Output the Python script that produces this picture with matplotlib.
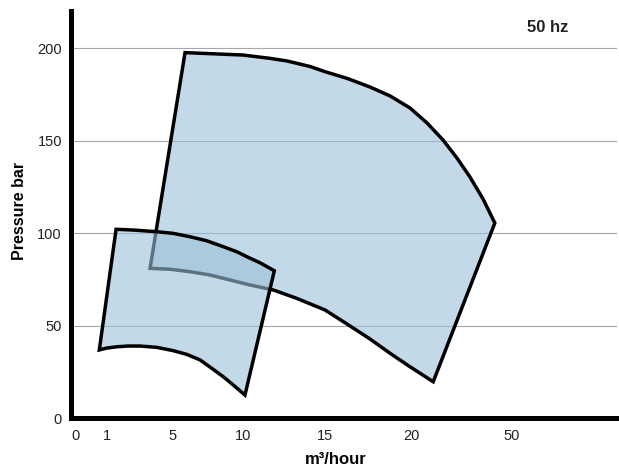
import numpy as np
import matplotlib
matplotlib.use("Agg")
import matplotlib.pyplot as plt
from matplotlib.patches import Polygon

plt.rcParams['font.family'] = ['Liberation Sans', 'DejaVu Sans']

# ---- data ----
x_tick_values = [0, 1, 5, 10, 15, 20, 50]
x_tick_labels = ['0', '1', '5', '10', '15', '20', '50']
y_tick_values = [0, 50, 100, 150, 200]

# large pump envelope (flow m3/h, pressure bar)
large_flow = [5.86, 7.14, 10.0, 11.65, 12.68, 14.09, 15.0, 16.28, 17.62, 18.78,
              19.94, 24.75, 29.5, 33.66, 37.5, 41.4, 44.9,
              26.6, 19.94, 18.78, 17.62, 16.28, 15.0, 13.27, 11.85, 10.43,
              9.07, 7.64, 6.21, 4.82, 3.61]
large_pressure = [197.5, 197.1, 196.2, 194.4, 193.0, 190.0, 187.2, 183.6, 178.9, 174.1,
                  167.6, 159.5, 150.3, 140.5, 130.3, 118.4, 105.4,
                  19.6, 27.7, 35.0, 42.7, 50.8, 58.4, 64.7, 69.2, 71.9,
                  74.6, 77.3, 79.1, 80.4, 80.9]

# small pump envelope
small_flow = [1.55, 2.59, 4.01, 5.02, 6.21, 7.41, 8.59, 9.55, 10.23, 11.04, 11.91,
              10.12, 9.31, 8.59, 7.76, 6.93, 5.98, 5.02, 4.01, 3.0, 2.29, 1.59, 0.99, 0.76]
small_pressure = [102.0, 101.6, 100.7, 99.8, 98.0, 95.8, 92.6, 89.9, 87.2, 83.9, 79.6,
                  12.4, 17.8, 22.3, 26.9, 31.4, 34.4, 36.4, 38.2, 38.9, 38.9, 38.5, 37.8, 36.8]

# ---- non-linear flow axis (piecewise linear scale) ----
scale_vals = np.array([-1, 0, 1, 5, 10, 15, 20, 50, 100], dtype=float)
scale_pos = np.array([43, 75, 107, 173, 243, 325, 411, 512, 680], dtype=float)

def fwd(x):
    return np.interp(x, scale_vals, scale_pos)

def inv(p):
    return np.interp(p, scale_pos, scale_vals)

W, H = 619, 468
fig = plt.figure(figsize=(W / 100, H / 100), dpi=100)
ax = fig.add_axes([71 / W, 1 - 418 / H, 546 / W, 407 / H])
ax.set_xscale('function', functions=(fwd, inv))
ax.set_xlim(inv(71), inv(617))
ax.set_ylim(0, 220)

fill_rgba = (157 / 255, 193 / 255, 215 / 255, 0.6)
for fx, py in [(large_flow, large_pressure), (small_flow, small_pressure)]:
    poly = Polygon(np.column_stack([fx, py]), closed=True, facecolor=fill_rgba,
                   edgecolor='black', linewidth=2.5, joinstyle='miter', zorder=2)
    ax.add_patch(poly)

ax.set_axisbelow(True)
ax.set_xticks(x_tick_values)
ax.set_xticklabels(x_tick_labels)
ax.set_xticks([v for v in x_tick_values if v != 0], minor=True)
ax.set_yticks(y_tick_values)
ax.tick_params(axis='x', which='major', length=0, pad=8, labelsize=10.5, labelcolor='#222222')
ax.tick_params(axis='x', which='minor', length=0)
ax.tick_params(axis='y', length=0, pad=6.5, labelsize=10.5, labelcolor='#222222')
ax.grid(True, axis='x', which='minor', color='#dcdcdc', linewidth=1.1)
ax.grid(False, axis='x', which='major')
ax.grid(True, axis='y', which='major', color='#a6a6b0', linewidth=0.8)

for s in ['top', 'right']:
    ax.spines[s].set_visible(False)
for s in ['left', 'bottom']:
    ax.spines[s].set_linewidth(3.6)
    ax.spines[s].set_color('black')

ax.set_ylabel('Pressure bar', fontsize=11.5, fontweight='bold')
ax.yaxis.label.set_va('center')
ax.yaxis.set_label_coords((19.5 - 71) / 546, (418 - 211) / 407)
ax.set_xlabel('m³/hour', fontsize=12, fontweight='bold')
ax.xaxis.label.set_va('center')
ax.xaxis.set_label_coords((336 - 71) / 546, (418 - 459) / 407)

ax.text((548 - 71) / 546, (418 - 28) / 407, '50 hz', transform=ax.transAxes,
        ha='center', va='center', fontsize=12, fontweight='bold', color='#222222')

fig.savefig('out.png', dpi=100)
